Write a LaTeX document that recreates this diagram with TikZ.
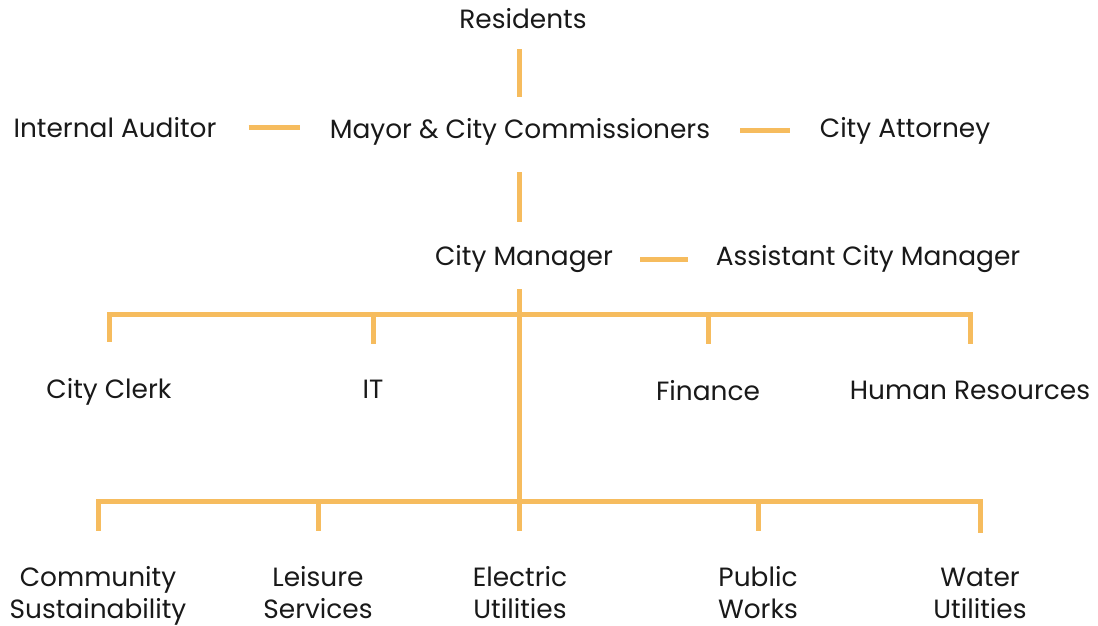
\documentclass[tikz,border=0pt]{standalone}
\usepackage{fontspec}
\setmainfont{Poppins}
\definecolor{orgline}{HTML}{F6BC5E}
\tikzset{
  unit/.style={font=\fontsize{26.4}{31.5}\selectfont, inner sep=0pt, align=center, anchor=base, text=black!90},
  link/.style={draw=orgline, line width=5pt},
}
\begin{document}
\begin{tikzpicture}[x=1pt,y=-1pt]
      \useasboundingbox[fill=white] (0,0) rectangle (1098,626);
      % top levels
      \node[unit] (res) at (523,28.7) {Residents};
      \node[unit] (aud) at (115,137.7) {Internal Auditor};
      \node[unit] (mayor) at (520,138.3) {Mayor \& City Commissioners};
      \node[unit] (att) at (905,137.3) {City Attorney};
      \node[unit] (mgr) at (524,265.7) {City Manager};
      \node[unit] (asst) at (868,265.7) {Assistant City Manager};
      % staff row
      \node[unit] (clerk) at (109,398.3) {City Clerk};
      \node[unit] (it) at (373,398.3) {IT};
      \node[unit] (fin) at (708,400.3) {Finance};
      \node[unit] (hr) at (970,399) {Human Resources};
      % departments (base = last line)
      \node[unit] (comm) at (98,618) {Community\\Sustainability};
      \node[unit] (leis) at (318,618) {Leisure\\Services};
      \node[unit] (elec) at (520,618) {Electric\\Utilities};
      \node[unit] (pw) at (758,618) {Public\\Works};
      \node[unit] (water) at (980,618) {Water\\Utilities};
      \coordinate (spine) at (519,0);
      \coordinate (bus1) at (519,314);
      \coordinate (bus2) at (519,501);
      % connectors
      \draw[link, shorten <=20pt, shorten >=21pt] (res.south -| spine) -- (mayor.north -| spine);
      \draw[link, shorten <=32pt, shorten >=30pt] (aud.east) -- (aud.east -| mayor.west);
      \draw[link, shorten <=30pt, shorten >=30pt] (mayor.east |- att) -- (att.west);
      \draw[link, shorten <=27pt, shorten >=23pt] (mayor.south -| spine) -- (mgr.north -| spine);
      \draw[link, shorten <=27pt, shorten >=28pt] (mgr.east) -- (mgr.east -| asst.west);
      \draw[link, shorten <=16pt, shorten >=35pt] (mgr.south -| spine) -- (elec.north -| spine);
      \foreach \n in {clerk,it,fin,hr}
        \draw[link, shorten >=36pt] (bus1) -| (\n.north);
      \foreach \n in {comm,leis,pw,water}
        \draw[link, shorten >=35pt] (bus2) -| (\n.north);
\end{tikzpicture}
\end{document}
